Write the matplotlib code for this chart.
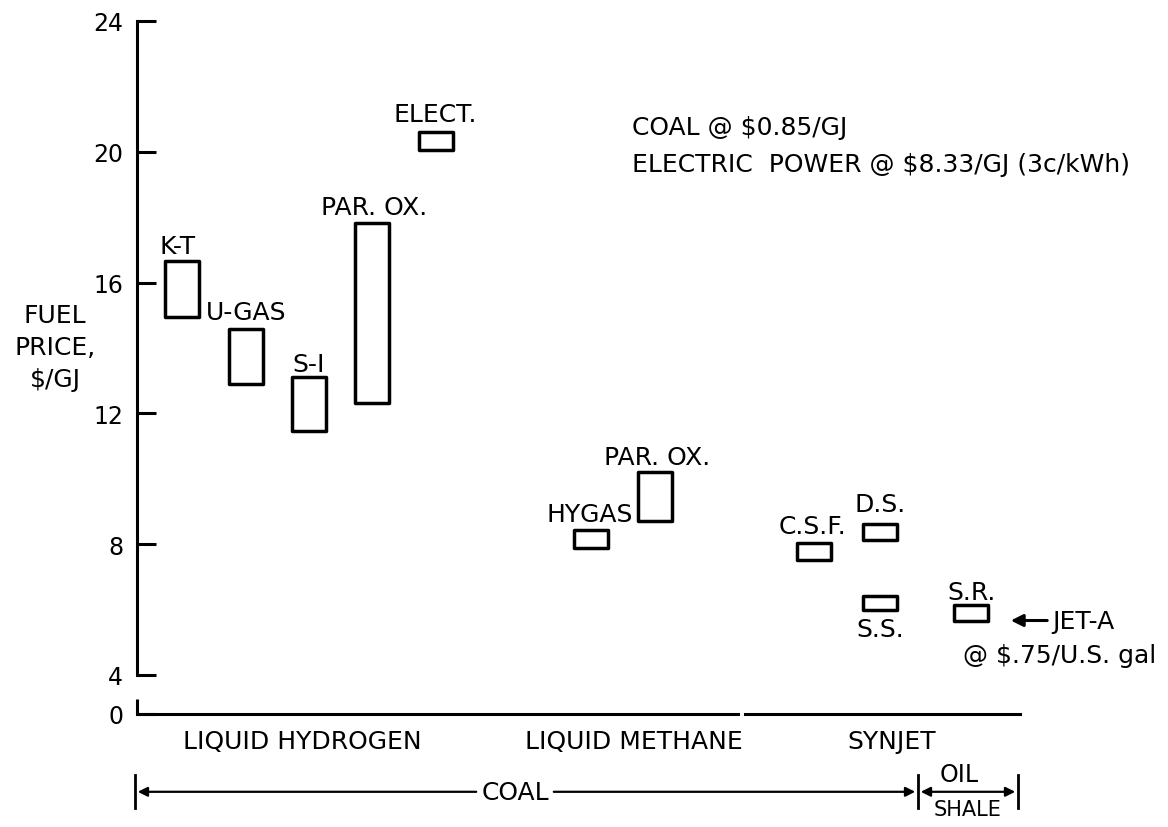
import numpy as np
import matplotlib.pyplot as plt

plt.rcParams['font.family'] = ['DejaVu Sans']
fs = 18

# data: price ranges in $/GJ
processes = ['K-T', 'U-GAS', 'S-I', 'PAR. OX.', 'ELECT.',
             'HYGAS', 'PAR. OX.', 'C.S.F.', 'D.S.', 'S.S.', 'S.R.']
price_low = [14.93, 12.90, 11.45, 12.30, 20.05, 7.88, 8.70, 7.50, 8.12, 5.97, 5.63]
price_high = [16.67, 14.58, 13.12, 17.82, 20.60, 8.43, 10.20, 8.03, 8.60, 6.40, 6.12]
jet_a_price = 5.66
fuels = ['LIQUID HYDROGEN', 'LIQUID METHANE', 'SYNJET']
y_ticks = [4, 8, 12, 16, 20, 24]

# layout (x in units of 10 px from the left spine)
xpos = [4.5, 10.85, 17.2, 23.5, 29.85, 45.4, 51.8, 67.65, 74.25, 74.3, 83.35]
label_xy = [(4.1, 17.12), (10.9, 15.1), (17.15, 13.5), (23.7, 18.31), (29.8, 21.16),
            (45.3, 8.92), (52.0, 10.67), (67.5, 8.56), (74.3, 9.23), (74.3, 5.41), (83.5, 6.54)]
fuel_x = [16.5, 49.7, 75.5]
y_zero = 2.8   # where the broken axis puts "0"

fig = plt.figure(figsize=(11.68, 8.28), dpi=100)
ax = fig.add_axes([137/1168, 1 - 715/828, 883/1168, (715 - 22)/828])
ax.set_xlim(0, 88.3)
ax.set_ylim(y_zero, 24)

heights = np.array(price_high) - np.array(price_low)
ax.bar(xpos, heights, bottom=price_low, width=3.4, fill=False,
       edgecolor='black', linewidth=2.5, joinstyle='round')

for name, (lx, ly) in zip(processes, label_xy):
    ax.text(lx, ly, name, ha='center', va='center', fontsize=fs)

# axes, drawn by hand to get the break at the bottom
for s in ['top', 'right', 'bottom']:
    ax.spines[s].set_visible(False)
ax.spines['left'].set_bounds(4, 24)
ax.spines['left'].set_linewidth(2.2)
ax.plot([0, 0], [y_zero, 3.27], color='black', lw=2.2, clip_on=False, solid_capstyle='butt')
ax.plot([0, 60.1], [y_zero, y_zero], color='black', lw=2.2, clip_on=False)
ax.plot([60.8, 88.3], [y_zero, y_zero], color='black', lw=2.2, clip_on=False)

ax.set_yticks([y_zero] + y_ticks)
ax.set_yticklabels(['0'] + [str(t) for t in y_ticks])
ax.tick_params(axis='y', direction='in', length=14, width=2.2, pad=10, labelsize=17)
ax.set_xticks([])

fig.text(55/1168, 1 - 348/828, 'FUEL\nPRICE,\n$/GJ', ha='center', va='center',
         fontsize=fs, linespacing=1.4)

# notes
ax.text(49.5, 20.76, 'COAL @ $0.85/GJ', ha='left', va='center', fontsize=fs)
ax.text(49.5, 19.63, 'ELECTRIC  POWER @ $8.33/GJ (3c/kWh)', ha='left', va='center',
        fontsize=fs, clip_on=False)

# jet-A reference
ax.annotate('', xy=(87.1, jet_a_price), xytext=(91.3, jet_a_price),
            arrowprops=dict(arrowstyle='-|>', color='black', lw=2.2, mutation_scale=18),
            annotation_clip=False)
ax.text(91.5, jet_a_price, 'JET-A', ha='left', va='center', fontsize=fs, clip_on=False)
ax.text(82.6, 4.61, '@ $.75/U.S. gal', ha='left', va='center', fontsize=fs, clip_on=False)

# fuel names under the baseline
for name, fx in zip(fuels, fuel_x):
    ax.text(fx, 1.98, name, ha='center', va='center', fontsize=fs, clip_on=False)

# feedstock arrows
y_arr = 0.42
ax.annotate('', xy=(-0.2, y_arr), xytext=(34.2, y_arr),
            arrowprops=dict(arrowstyle='-|>', color='black', lw=1.6, mutation_scale=14),
            annotation_clip=False)
ax.annotate('', xy=(78.1, y_arr), xytext=(41.4, y_arr),
            arrowprops=dict(arrowstyle='-|>', color='black', lw=1.6, mutation_scale=14),
            annotation_clip=False)
ax.text(37.8, y_arr, 'COAL', ha='center', va='center', fontsize=fs, clip_on=False)
ax.annotate('', xy=(78.1, y_arr), xytext=(88.1, y_arr),
            arrowprops=dict(arrowstyle='<|-|>', color='black', lw=1.6, mutation_scale=14),
            annotation_clip=False)
for bx in [-0.2, 78.1, 88.1]:
    ax.plot([bx, bx], [y_arr - 0.5, y_arr + 0.5], color='black', lw=2, clip_on=False)
ax.text(82.2, 0.95, 'OIL', ha='center', va='center', fontsize=17, clip_on=False)
ax.text(83.1, -0.1, 'SHALE', ha='center', va='center', fontsize=15, clip_on=False)

fig.savefig('out.png', dpi=100)
